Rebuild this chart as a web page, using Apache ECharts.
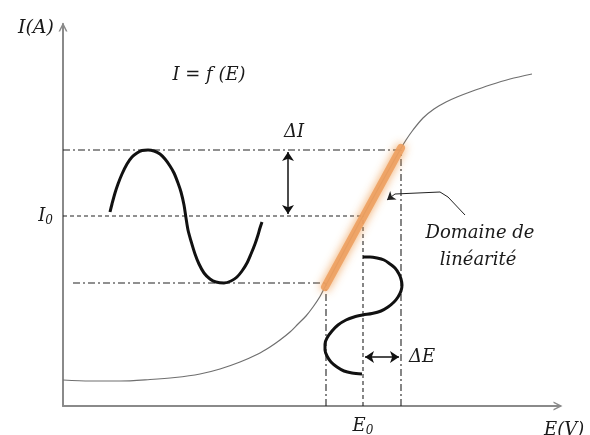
<!DOCTYPE html>
<html>
<head>
<meta charset="utf-8">
<script src="https://cdn.jsdelivr.net/npm/echarts@6/dist/echarts.min.js"></script>
<style>
  html, body { margin: 0; padding: 0; background: #fff; }
  #chart { width: 590px; height: 435px; }
</style>
</head>
<body>
<div id="chart"></div>
<script>
// Current–potential characteristic I = f(E), arbitrary units.
// Each point is [E, I].

// Characteristic curve (sigmoid)
const characteristic = [
  [0, 26], [27, 25], [57, 25], [87, 26.5], [112, 28.5], [137, 32], [157, 37],
  [177, 44], [195, 52], [207, 59], [217, 66], [227, 74], [235, 82], [243, 90],
  [250, 99], [257, 109.5], [263, 121], [300, 190], [337, 256], [343, 266],
  [350, 276], [360, 288], [371, 297], [383, 304], [394, 309], [407, 314],
  [427, 321], [447, 327], [469, 332]
];

// Linear domain of the characteristic
const linearDomain = [[262, 119], [338, 258]];

// Current response signal (drawn along the I axis)
const currentWave = [
  [47, 194], [49, 202], [52, 213], [55, 222], [59, 232], [64, 242], [69, 249],
  [74, 253], [79, 255.5], [85, 256], [91, 255], [97, 252], [102, 247],
  [107, 240], [111, 233], [115, 223], [118, 214], [121, 201], [123, 188],
  [125, 176], [128, 165], [132, 152], [136, 142], [141, 133], [147, 127],
  [153, 124], [161, 123], [168, 125], [174, 129], [179, 135], [184, 143],
  [188, 152], [192, 162], [195, 171], [197, 178], [199, 184]
];

// Potential perturbation signal (drawn along the E axis, time running downward)
const potentialWave = [
  [300, 149], [307, 149], [314, 148], [321, 146], [327, 142], [332, 138],
  [336, 132], [338, 127], [339, 121], [338, 115], [335, 109], [331, 104],
  [325, 99], [318, 95], [309, 92.5], [300, 91], [291, 89], [283, 86],
  [275, 81], [269, 75], [264, 68], [262, 62], [262, 56], [264, 50],
  [268, 44], [274, 39], [281, 35], [289, 33], [299, 32]
];

// Pointer towards the linear domain
const pointerPath = [[402, 191], [385, 209], [377, 214], [332, 212]];
const pointerTip = [[332, 212], [324, 206]];

// Operating point and extremes of the linear domain
const E0 = 300, Emin = 263, Emax = 338;
const I0 = 190, Imin = 123, Imax = 256;

// Amplitude arrows
const deltaIArrow = [[225, I0 + 2], [225, Imax - 2]];
const deltaEArrow = [[E0 + 2, 49], [Emax - 2, 49]];

// Tick labels
const xTickLabel = { value: E0, text: '{it|E}{sub|0}' };
const yTickLabel = { value: I0, text: '{it|I}{sub|0}' };

const serif = '"DejaVu Serif", "Liberation Serif", serif';
const ink = '#1a1a1a';
const dashDot = [7, 3, 2, 3];
const dashed = [4, 3];

// open chevron used as the axis arrow head
const chevron = 'path://M0,10 L5,0 L10,10 L8.2,10 L5,3.6 L1.8,10 Z';

const guide = (pts, pattern) => ({
  type: 'line', data: pts, symbol: 'none', silent: true,
  lineStyle: { color: '#222', width: 1.1, type: pattern }, z: 3
});

const labelRich = {
  it: { fontFamily: serif, fontStyle: 'italic', fontSize: 18, color: ink },
  sub: { fontFamily: serif, fontStyle: 'italic', fontSize: 12, color: ink, padding: [10, 0, 0, 0] }
};

const chart = echarts.init(document.getElementById('chart'));
chart.setOption({
  animation: false,
  backgroundColor: '#fff',
  grid: { left: 63, right: 30, top: 24, bottom: 29, containLabel: false, outerBoundsMode: 'none' },
  xAxis: {
    type: 'value', min: 0, max: 497, interval: E0,
    splitLine: { show: false }, axisTick: { show: false },
    axisLine: {
      lineStyle: { color: '#8a8a8a', width: 2 },
      symbol: ['none', chevron], symbolSize: [10, 9], symbolOffset: [0, -2]
    },
    axisLabel: {
      margin: 9, color: ink,
      formatter: v => (v === xTickLabel.value ? xTickLabel.text : ''),
      rich: labelRich
    },
    name: 'E(V)', nameLocation: 'end', nameGap: -16,
    nameTextStyle: { fontFamily: serif, fontStyle: 'italic', fontSize: 18, color: ink,
      align: 'left', verticalAlign: 'top', padding: [15, 0, 0, 0] }
  },
  yAxis: {
    type: 'value', min: 0, max: 382, interval: I0,
    splitLine: { show: false }, axisTick: { show: false },
    axisLine: {
      lineStyle: { color: '#8a8a8a', width: 2 },
      symbol: ['none', chevron], symbolSize: [11, 9], symbolOffset: [0, -3]
    },
    axisLabel: {
      margin: 10, color: ink,
      formatter: v => (v === yTickLabel.value ? yTickLabel.text : ''),
      rich: labelRich
    },
    name: 'I(A)', nameLocation: 'end', nameGap: -4,
    nameTextStyle: { fontFamily: serif, fontStyle: 'italic', fontSize: 19, color: ink,
      align: 'right', verticalAlign: 'middle', padding: [0, 9, 0, 0] }
  },
  series: [
    // guide lines
    guide([[0, Imax], [Emax, Imax]], dashDot),
    guide([[10, Imin], [Emin, Imin]], dashDot),
    guide([[0, I0], [E0, I0]], dashed),
    guide([[Emin, 0], [Emin, Imin]], dashDot),
    guide([[E0, 0], [E0, I0]], dashed),
    guide([[Emax, 0], [Emax, Imax]], dashDot),
    {
      type: 'line', data: characteristic, smooth: 0.3, symbol: 'none',
      lineStyle: { color: '#6f6f6f', width: 1.2 }, z: 4
    },
    {
      type: 'line', data: linearDomain, symbol: 'none',
      lineStyle: { color: '#eda060', width: 8, cap: 'round', opacity: 0.9,
        shadowBlur: 10, shadowColor: 'rgba(236,150,70,0.95)' }, z: 5
    },
    {
      type: 'line', data: currentWave, smooth: 0.3, symbol: 'none',
      lineStyle: { color: '#111', width: 3 }, z: 6
    },
    {
      type: 'line', data: potentialWave, smooth: 0.3, symbol: 'none',
      lineStyle: { color: '#111', width: 3 }, z: 6
    },
    {
      type: 'lines', coordinateSystem: 'cartesian2d', z: 7,
      symbol: ['arrow', 'arrow'], symbolSize: 9,
      lineStyle: { color: '#111', width: 1.5, opacity: 1 },
      data: [{ coords: deltaIArrow }, { coords: deltaEArrow }]
    },
    {
      type: 'line', data: pointerPath, symbol: 'none', z: 7,
      lineStyle: { color: '#222', width: 1 }
    },
    {
      type: 'lines', coordinateSystem: 'cartesian2d', z: 7,
      symbol: ['none', 'arrow'], symbolSize: 8,
      lineStyle: { color: '#222', width: 1, opacity: 1 },
      data: [{ coords: pointerTip }]
    }
  ],
  graphic: [
    { type: 'text', x: 209, y: 75, style: { text: 'I = f (E)', font: 'italic 18px ' + serif, fill: ink, align: 'center', verticalAlign: 'middle' } },
    { type: 'text', x: 294, y: 132, style: { text: 'ΔI', font: 'italic 18px ' + serif, fill: ink, align: 'center', verticalAlign: 'middle' } },
    { type: 'text', x: 422, y: 357, style: { text: 'ΔE', font: 'italic 18px ' + serif, fill: ink, align: 'center', verticalAlign: 'middle' } },
    { type: 'text', x: 480, y: 233, style: { text: 'Domaine de', font: 'italic 18px ' + serif, fill: ink, align: 'center', verticalAlign: 'middle' } },
    { type: 'text', x: 478, y: 260, style: { text: 'linéarité', font: 'italic 18px ' + serif, fill: ink, align: 'center', verticalAlign: 'middle' } }
  ]
});
</script>
</body>
</html>
